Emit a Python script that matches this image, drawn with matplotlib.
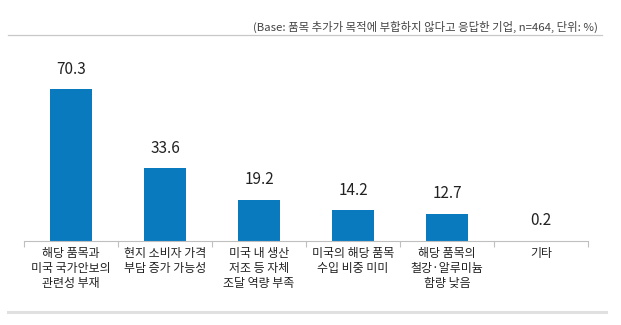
import matplotlib.pyplot as plt
from matplotlib.lines import Line2D

plt.rcParams["font.family"] = ["Noto Sans CJK KR", "DejaVu Sans"]

# 데이터
categories = [
    "해당 품목과\n미국 국가안보의\n관련성 부재",
    "현지 소비자 가격\n부담 증가 가능성",
    "미국 내 생산\n저조 등 자체\n조달 역량 부족",
    "미국의 해당 품목\n수입 비중 미미",
    "해당 품목의\n철강·알루미늄\n함량 낮음",
    "기타",
]
values = [70.3, 33.6, 19.2, 14.2, 12.7, 0.2]
note = "(Base: 품목 추가가 목적에 부합하지 않다고 응답한 기업, n=464, 단위: %)"

BLUE = "#0a7abf"
TXT = "#222222"

fig = plt.figure(figsize=(6.21, 3.25), dpi=100)
ax = fig.add_axes([24 / 621, (325 - 241) / 325, 564 / 621, 191 / 325])

x = range(len(values))
ax.bar(x, values, width=0.45, color=BLUE)
for xi, v in zip(x, values):
    ax.annotate(f"{v:.1f}", (xi, v), xytext=(0, 8), textcoords="offset points",
                ha="center", va="bottom", fontsize=11, color=TXT)

ax.set_xlim(-0.5, len(values) - 0.5)
ax.set_ylim(0, 88.4)
for s in ["top", "right", "left"]:
    ax.spines[s].set_visible(False)
ax.spines["bottom"].set_color("#bfbfbf")
ax.spines["bottom"].set_linewidth(0.8)
ax.set_yticks([])

# 카테고리 경계 눈금
ax.set_xticks([i - 0.5 for i in range(len(values) + 1)], minor=False)
ax.set_xticklabels([])
ax.tick_params(axis="x", length=4, color="#bfbfbf", width=0.8)
ax.set_xticks(list(x), minor=True)
ax.set_xticklabels(categories, minor=True, fontsize=8.6, color=TXT, linespacing=1.2)
ax.tick_params(axis="x", which="minor", length=0, pad=4)

# 상단 주석과 구분선
fig.text(598 / 621, 1 - 27 / 325, note, ha="right", va="center", fontsize=8.2, color="#444444")
fig.add_artist(Line2D([8 / 621, 602 / 621], [1 - 35 / 325] * 2, color="#c8c8c8", lw=0.9))
fig.add_artist(Line2D([8 / 621, 606 / 621], [1 - 312 / 325] * 2, color="#e0e0e0", lw=2.2))

fig.savefig("out.png", dpi=100)
